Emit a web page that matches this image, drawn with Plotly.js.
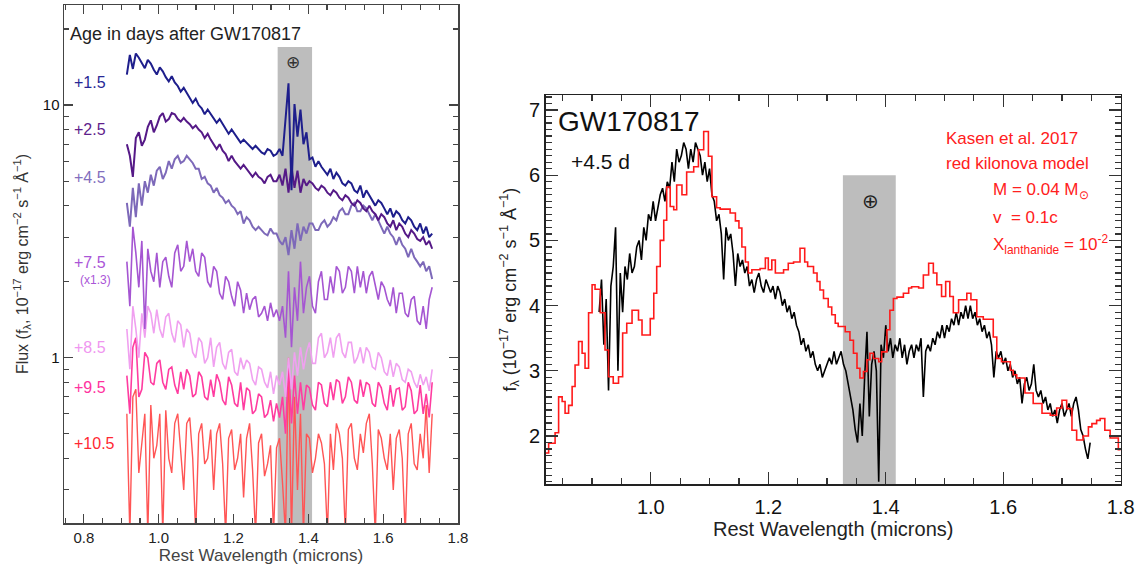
<!DOCTYPE html>
<html><head><meta charset="utf-8">
<script src="https://cdn.plot.ly/plotly-3.0.1.min.js"></script>
<style>html,body{margin:0;padding:0;background:#fff}#chart{width:1143px;height:571px}</style>
</head><body><div id="chart"></div>
<script>
// ---------- LEFT PANEL: spectral sequence (wavelength grid in microns) ----------
const leftStart = 0.915, leftStep = 0.008, leftCount = 103;
const leftWave = Array.from({length:leftCount}, (_, i) => +(leftStart + i*leftStep).toFixed(3));

const flux_1p5 = [13.2,15.8,13.9,16.0,15.4,14.6,14.0,15.1,14.6,13.8,
 13.2,14.1,13.6,12.9,12.4,13.0,12.3,11.9,11.3,11.7,
 11.2,10.7,10.2,10.6,10.0,9.7,9.2,9.6,9.2,8.9,
 8.5,8.8,8.4,8.1,7.7,8.0,7.7,7.4,7.1,7.3,
 7.1,6.9,6.7,6.9,6.7,6.5,6.4,6.7,6.6,6.3,
 6.4,6.7,6.3,8.5,12.2,4.6,10.1,7.5,9.6,7.0,
 7.8,6.1,6.2,5.7,6.0,5.7,5.5,5.3,5.6,5.1,
 5.4,5.2,4.9,4.8,5.0,4.9,4.6,4.5,4.8,4.3,
 4.6,4.4,4.2,4.0,4.2,4.1,3.9,3.7,3.9,3.6,
 3.8,3.7,3.5,3.4,3.6,3.5,3.3,3.2,3.4,3.1,
 3.3,3.0,3.1];
const flux_2p5 = [7.0,6.3,5.2,7.4,7.8,6.9,7.3,8.2,8.7,7.8,
 8.3,9.0,9.3,8.6,8.8,9.3,9.2,8.8,8.6,8.9,
 8.6,8.4,8.1,8.3,8.0,7.8,7.4,7.7,7.3,7.0,
 6.7,7.0,6.6,6.4,6.0,6.3,6.0,5.8,5.6,5.8,
 5.6,5.4,5.2,5.4,5.2,5.1,4.9,5.2,5.3,5.0,
 5.0,5.3,4.8,5.6,4.5,5.7,4.7,5.5,4.5,5.1,
 4.8,5.0,4.9,4.7,4.6,4.8,4.7,4.5,4.4,4.6,
 4.5,4.3,4.2,4.4,4.3,4.1,4.0,4.2,4.1,3.9,
 3.8,4.0,3.8,3.7,3.5,3.7,3.6,3.4,3.3,3.5,
 3.2,3.4,3.3,3.1,3.0,3.2,3.1,2.95,2.9,3.0,
 2.8,2.9,2.7];
const flux_4p5 = [4.1,3.3,4.7,3.6,4.9,4.0,5.0,4.5,5.3,4.8,
 5.5,5.7,5.1,5.4,6.0,5.6,6.1,6.3,5.9,6.0,
 6.3,6.1,5.9,5.6,5.6,5.1,5.2,4.9,4.8,4.5,
 4.7,4.4,4.3,4.1,4.2,4.0,3.9,3.7,3.8,3.4,
 3.6,3.5,3.3,3.2,3.3,3.2,3.1,3.05,3.25,3.1,
 3.1,2.9,2.8,3.0,2.55,3.2,2.7,3.4,2.9,3.3,
 3.1,3.4,3.4,3.2,3.2,3.4,3.5,3.3,3.4,3.6,
 3.5,3.8,3.9,3.7,3.7,4.0,4.1,3.8,3.8,4.0,
 3.9,3.7,3.5,3.7,3.5,3.3,3.1,3.3,3.1,3.0,
 2.8,3.0,2.8,2.7,2.5,2.7,2.5,2.4,2.3,2.4,
 2.2,2.3,2.05];
const flux_7p5 = [2.4,1.6,3.3,2.6,1.9,2.9,1.3,2.7,2.2,2.0,
 2.6,1.9,2.4,2.5,2.1,1.9,2.6,2.8,2.2,2.3,
 2.9,2.4,2.7,2.2,2.1,2.6,2.5,2.0,1.9,2.3,
 2.2,1.8,1.7,2.1,2.0,1.75,1.6,2.0,1.85,1.5,
 1.8,1.55,1.7,1.75,1.45,1.5,1.6,1.4,1.65,1.45,
 1.55,1.4,1.6,1.2,2.2,1.1,1.9,1.4,2.4,1.5,
 1.9,2.1,1.6,1.5,2.0,2.2,1.7,1.7,2.1,1.8,
 2.3,2.2,1.8,1.9,2.3,2.2,1.8,2.3,1.9,2.2,
 1.8,2.1,2.2,1.9,1.7,2.0,1.9,1.7,1.6,1.9,
 1.5,1.8,1.8,1.5,1.45,1.7,1.75,1.4,1.35,1.6,
 1.3,1.7,1.9];
const flux_8p5 = [1.3,0.9,1.6,1.3,1.0,1.5,1.2,1.6,1.5,1.25,
 1.55,1.3,1.2,1.45,1.5,1.25,1.15,1.4,1.35,1.1,
 1.3,1.25,1.05,1.0,1.2,1.15,0.95,1.0,1.2,0.92,
 1.1,1.15,0.95,0.9,1.05,1.08,0.88,0.85,1.0,0.9,
 0.98,0.95,0.82,0.78,0.92,0.9,0.8,0.76,0.88,0.72,
 0.85,0.78,0.88,0.7,1.0,0.75,1.05,0.85,1.1,0.9,
 1.05,1.15,0.95,0.95,1.2,1.25,1.0,1.05,1.2,1.0,
 1.2,1.25,1.05,1.0,1.15,1.15,0.95,1.0,1.1,0.95,
 1.1,1.05,0.92,0.9,1.05,1.0,0.88,0.85,0.98,0.84,
 0.95,0.92,0.82,0.8,0.9,0.88,0.8,0.76,0.86,0.78,
 0.84,0.74,0.9];
const flux_9p5 = [0.85,0.6,1.1,1.2,0.7,0.75,1.05,1.0,0.8,0.78,
 0.95,0.98,0.8,0.75,0.9,0.92,0.78,0.72,0.88,0.75,
 0.9,0.85,0.7,0.72,0.88,0.84,0.7,0.68,0.82,0.7,
 0.86,0.8,0.68,0.65,0.84,0.78,0.66,0.64,0.8,0.62,
 0.76,0.74,0.6,0.62,0.72,0.7,0.58,0.6,0.68,0.56,
 0.66,0.58,0.7,0.5,0.95,0.55,0.85,0.6,0.8,0.62,
 0.78,0.76,0.65,0.62,0.8,0.78,0.66,0.64,0.8,0.68,
 0.82,0.8,0.66,0.7,0.84,0.8,0.68,0.66,0.82,0.7,
 0.8,0.78,0.66,0.64,0.8,0.76,0.66,0.62,0.78,0.64,
 0.75,0.76,0.62,0.64,0.8,0.74,0.6,0.62,0.78,0.6,
 0.72,0.58,0.8];
const flux_10p5 = [0.6,0.2,0.7,0.75,0.35,0.45,0.6,0.2,0.65,0.4,
 0.45,0.6,0.2,0.62,0.4,0.35,0.55,0.6,0.42,0.3,
 0.55,0.58,0.4,0.2,0.5,0.55,0.38,0.4,0.52,0.3,
 0.5,0.55,0.38,0.2,0.48,0.52,0.36,0.4,0.5,0.28,
 0.48,0.55,0.36,0.2,0.46,0.5,0.34,0.38,0.45,0.2,
 0.44,0.48,0.32,0.2,1.0,0.2,0.7,0.3,0.6,0.2,
 0.5,0.48,0.35,0.4,0.5,0.46,0.38,0.2,0.5,0.36,
 0.55,0.5,0.4,0.2,0.52,0.55,0.4,0.36,0.5,0.42,
 0.55,0.6,0.38,0.2,0.52,0.48,0.4,0.36,0.5,0.3,
 0.48,0.52,0.4,0.2,0.5,0.55,0.38,0.36,0.5,0.4,
 0.65,0.35,0.6];

const leftLabels = ['+1.5','+2.5','+4.5','+7.5','+8.5','+9.5','+10.5'];

// ---------- RIGHT PANEL: +4.5 d spectrum and Kasen et al. 2017 model ----------
const rightStart = 0.912, rightStep = 0.004, rightCount = 210;
const rightWave = Array.from({length:rightCount}, (_, i) => +(rightStart + i*rightStep).toFixed(3));
const flux_obs = [3.9,4.4,3.4,4.1,2.7,4.3,4.6,5.2,3.0,4.5,
 3.9,4.6,4.4,4.8,4.5,4.6,4.9,5.0,4.7,5.2,
 5.0,5.4,5.3,5.6,5.3,5.5,5.7,5.8,5.6,5.9,
 5.8,6.2,5.9,6.4,6.2,6.3,6.5,6.4,6.1,6.4,
 6.2,6.5,6.4,6.3,6.0,6.2,5.9,6.1,5.7,5.6,
 5.3,5.4,5.1,4.4,5.2,5.0,5.1,4.8,4.3,4.8,
 4.6,4.7,4.5,4.6,4.3,4.4,4.2,4.4,4.5,4.3,
 4.2,4.4,4.3,4.2,4.3,4.1,4.3,4.2,4.0,4.1,
 3.9,4.0,3.8,3.9,3.7,3.6,3.4,3.5,3.3,3.4,
 3.2,3.3,3.1,3.0,3.1,2.9,3.0,3.1,3.2,3.1,
 3.3,3.1,3.2,3.3,3.1,3.0,2.8,2.6,2.4,2.1,
 1.9,2.5,2.0,2.9,3.6,2.3,3.1,3.3,3.0,1.3,
 3.4,3.2,3.7,3.3,3.5,3.2,3.4,3.3,3.5,3.2,
 3.4,3.1,3.3,3.4,3.2,3.4,3.3,3.5,2.6,3.3,
 3.4,3.3,3.5,3.4,3.6,3.5,3.7,3.5,3.7,3.6,
 3.8,3.7,3.9,3.7,3.9,3.8,4.0,3.8,4.0,3.8,
 3.9,3.7,3.8,3.6,3.7,3.5,3.6,3.4,2.9,3.3,
 3.2,3.3,3.1,3.2,3.0,3.1,2.9,3.0,2.8,2.9,
 2.5,2.8,2.9,2.7,2.8,3.1,2.7,2.6,2.7,2.5,
 2.6,2.4,2.5,2.3,2.4,2.2,2.4,2.5,2.3,2.4,
 2.5,2.3,2.5,2.6,2.4,2.1,2.0,1.8,1.65,1.9];

const modelWave = [0.820,0.826,0.837,0.843,0.849,0.854,0.860,0.866,0.871,0.877,0.883,0.888,0.894,0.900,0.905,0.914,0.922,0.928,0.936,0.945,
 0.952,0.959,0.968,0.979,0.985,0.999,1.005,1.010,1.016,1.022,1.027,1.033,1.039,1.044,1.053,1.061,1.073,1.081,1.090,1.098,
 1.104,1.112,1.118,1.135,1.144,1.150,1.155,1.161,1.166,1.172,1.186,1.195,1.200,1.206,1.212,1.226,1.234,1.243,1.254,1.262,
 1.267,1.277,1.283,1.288,1.294,1.302,1.308,1.314,1.319,1.331,1.339,1.345,1.351,1.356,1.362,1.368,1.373,1.379,1.388,1.393,
 1.402,1.407,1.413,1.419,1.430,1.439,1.444,1.456,1.464,1.473,1.481,1.487,1.495,1.502,1.509,1.515,1.524,1.538,1.545,1.555,
 1.566,1.583,1.589,1.597,1.612,1.617,1.623,1.637,1.651,1.666,1.680,1.691,1.700,1.708,1.717,1.725,1.736,1.745,1.751,1.759,
 1.765,1.773,1.782,1.796,1.800];
const modelFlux = [1.74,1.89,2.05,2.60,2.53,2.35,2.47,2.76,3.09,3.45,3.27,3.04,3.89,4.32,4.25,3.89,3.32,2.91,2.81,2.91,
 3.58,3.73,3.93,3.78,3.55,3.80,4.19,4.60,5.00,5.31,5.82,5.52,5.47,5.85,5.70,6.05,6.13,6.39,6.67,6.29,
 5.67,5.50,5.48,5.42,5.30,5.19,4.90,4.67,4.50,4.55,4.57,4.73,4.55,4.70,4.50,4.55,4.65,4.67,4.88,4.67,
 4.60,4.50,4.37,4.24,4.11,3.98,3.86,3.73,3.68,3.60,3.47,3.27,3.04,2.89,2.99,3.17,3.27,3.19,3.14,3.29,
 3.63,3.93,4.11,4.13,4.19,4.27,4.29,4.27,4.47,4.65,4.50,4.32,4.14,4.37,4.14,3.89,4.09,4.19,4.09,3.83,
 3.79,3.52,3.19,3.14,3.01,2.94,2.89,2.66,2.50,2.35,2.32,2.43,2.55,2.42,2.09,1.94,2.00,2.14,2.19,2.24,
 2.27,2.09,1.97,1.79,1.79];

// ---------- drawing ----------
const W = 1143, H = 571;
const FONT = 'Liberation Sans, Arial, Helvetica, sans-serif';
const fx = p => p / W, fy = p => 1 - p / H;

const leftSeries = [
  {y: flux_10p5, color: 'rgb(255,85,85)',  width: 1.4},
  {y: flux_9p5,  color: 'rgb(255,60,160)', width: 1.6},
  {y: flux_8p5,  color: 'rgb(240,160,240)', width: 1.6},
  {y: flux_7p5,  color: 'rgb(165,85,210)', width: 1.6},
  {y: flux_4p5,  color: 'rgb(125,105,185)', width: 2.0},
  {y: flux_2p5,  color: 'rgb(85,25,135)',  width: 2.0},
  {y: flux_1p5,  color: 'rgb(30,30,140)',  width: 2.0}
];
const traces = leftSeries.map(s => ({
  x: leftWave, y: s.y, type: 'scatter', mode: 'lines', xaxis: 'x', yaxis: 'y',
  line: {shape: 'linear', width: s.width, color: s.color}, hoverinfo: 'skip'
}));
traces.push({x: rightWave, y: flux_obs, type: 'scatter', mode: 'lines', xaxis: 'x2', yaxis: 'y2',
  line: {shape: 'linear', width: 1.6, color: '#000'}, hoverinfo: 'skip'});
traces.push({x: modelWave, y: modelFlux, type: 'scatter', mode: 'lines', xaxis: 'x2', yaxis: 'y2',
  line: {shape: 'hv', width: 1.6, color: '#ff1a1a'}, hoverinfo: 'skip'});

const axBase = {showline: true, mirror: 'allticks', ticks: 'inside', showgrid: false, zeroline: false};

const labelColors = ['rgb(40,40,150)','rgb(95,30,140)','rgb(130,110,190)','rgb(170,85,215)','rgb(240,150,240)','rgb(255,50,160)','rgb(255,40,50)'];
const labelY = [83,130,177,262,347,387,443];
const annotations = leftLabels.map((t, i) => ({
  text: t, xref: 'paper', yref: 'paper', x: fx(72), y: fy(labelY[i]), xanchor: 'left', yanchor: 'middle',
  showarrow: false, font: {family: FONT, size: 16, color: labelColors[i]}
}));
annotations.push(
  {text: '(x1.3)', xref: 'paper', yref: 'paper', x: fx(78), y: fy(280), xanchor: 'left', yanchor: 'middle', showarrow: false, font: {family: FONT, size: 12, color: 'rgb(170,85,215)'}},
  {text: 'Age in days after GW170817', xref: 'paper', yref: 'paper', x: fx(68), y: fy(34), xanchor: 'left', yanchor: 'middle', showarrow: false, font: {family: FONT, size: 18, color: '#222'}},
  {text: '⊕', xref: 'paper', yref: 'paper', x: fx(293), y: fy(62), xanchor: 'center', yanchor: 'middle', showarrow: false, font: {family: 'DejaVu Sans', size: 17, color: '#333'}},
  {text: '⊕', xref: 'paper', yref: 'paper', x: fx(870), y: fy(201), xanchor: 'center', yanchor: 'middle', showarrow: false, font: {family: 'DejaVu Sans', size: 20, color: '#222'}},
  {text: 'GW170817', xref: 'paper', yref: 'paper', x: fx(556), y: fy(121), xanchor: 'left', yanchor: 'middle', showarrow: false, font: {family: FONT, size: 28, color: '#111'}},
  {text: '+4.5 d', xref: 'paper', yref: 'paper', x: fx(569), y: fy(162), xanchor: 'left', yanchor: 'middle', showarrow: false, font: {family: FONT, size: 21, color: '#111'}},
  {text: 'Kasen et al. 2017', xref: 'paper', yref: 'paper', x: fx(944), y: fy(138), xanchor: 'left', yanchor: 'middle', showarrow: false, font: {family: FONT, size: 17, color: '#ff2020'}},
  {text: 'red kilonova model', xref: 'paper', yref: 'paper', x: fx(944), y: fy(164), xanchor: 'left', yanchor: 'middle', showarrow: false, font: {family: FONT, size: 17, color: '#ff2020'}},
  {text: 'M = 0.04 M<sub>⊙</sub>', xref: 'paper', yref: 'paper', x: fx(991), y: fy(191), xanchor: 'left', yanchor: 'middle', showarrow: false, font: {family: FONT, size: 17, color: '#ff2020'}},
  {text: 'v  = 0.1c', xref: 'paper', yref: 'paper', x: fx(991), y: fy(217), xanchor: 'left', yanchor: 'middle', showarrow: false, font: {family: FONT, size: 17, color: '#ff2020'}},
  {text: 'X<sub>lanthanide</sub> = 10<sup>-2</sup>', xref: 'paper', yref: 'paper', x: fx(991), y: fy(244), xanchor: 'left', yanchor: 'middle', showarrow: false, font: {family: FONT, size: 17, color: '#ff2020'}}
);

const layout = {
  width: W, height: H, margin: {l: 0, r: 0, t: 0, b: 0}, showlegend: false,
  paper_bgcolor: '#fff', plot_bgcolor: '#fff', font: {family: FONT},
  xaxis: Object.assign({}, axBase, {
    domain: [fx(64), fx(458)], range: [0.747, 1.8], anchor: 'y',
    linecolor: '#444', linewidth: 1.5, tickcolor: '#444', tickwidth: 1.2, ticklen: 9,
    tick0: 0.8, dtick: 0.2, tickformat: '.1f',
    minor: {tick0: 0.8, dtick: 0.05, ticklen: 5, ticks: 'inside', tickcolor: '#444'},
    tickfont: {family: FONT, size: 15, color: '#222'},
    title: {text: 'Rest Wavelength (microns)', font: {family: FONT, size: 17, color: '#444'}, standoff: 4}
  }),
  yaxis: Object.assign({}, axBase, {
    domain: [fy(523), fy(5)], type: 'log', range: [-0.654, 1.396], anchor: 'x',
    linecolor: '#444', linewidth: 1.5, tickcolor: '#444', tickwidth: 1.2, ticklen: 9,
    tickmode: 'array', tickvals: [1, 10], ticktext: ['1', '10'],
    minor: {tickmode: 'array', tickvals: [0.3,0.4,0.5,0.6,0.7,0.8,0.9,2,3,4,5,6,7,8,9,20], ticklen: 5, ticks: 'inside', tickcolor: '#444'},
    tickfont: {family: FONT, size: 15, color: '#111'},
    title: {text: 'Flux (f<sub>λ</sub>, 10<sup>−17</sup> erg cm<sup>−2</sup> s<sup>−1</sup> Å<sup>−1</sup>)', font: {family: FONT, size: 16, color: '#333'}, standoff: 10}
  }),
  xaxis2: Object.assign({}, axBase, {
    domain: [fx(545.7), fx(1120.7)], range: [0.821, 1.8], anchor: 'y2',
    linecolor: '#222', linewidth: 1.5, tickcolor: '#333', tickwidth: 1.2, ticklen: 12,
    tick0: 0.8, dtick: 0.2, tickformat: '.1f', ticklabelstandoff: 4,
    minor: {tick0: 0.8, dtick: 0.05, ticklen: 6, ticks: 'inside', tickcolor: '#333'},
    tickfont: {family: FONT, size: 20, color: '#111'},
    title: {text: 'Rest Wavelength (microns)', font: {family: FONT, size: 20, color: '#222'}, standoff: 1}
  }),
  yaxis2: Object.assign({}, axBase, {
    domain: [fy(484.3), fy(95)], range: [1.26, 7.23], anchor: 'x2',
    linecolor: '#222', linewidth: 1.5, tickcolor: '#333', tickwidth: 1.2, ticklen: 12,
    tick0: 0, dtick: 1,
    minor: {tick0: 0, dtick: 0.1, ticklen: 6, ticks: 'inside', tickcolor: '#333'},
    tickfont: {family: FONT, size: 20, color: '#111'},
    title: {text: 'f<sub>λ</sub> (10<sup>−17</sup> erg cm<sup>−2</sup> s<sup>−1</sup> Å<sup>−1</sup>)', font: {family: FONT, size: 18, color: '#222'}, standoff: 8}
  }),
  shapes: [
    {type: 'rect', xref: 'x', yref: 'y domain', x0: 1.318, x1: 1.41, y0: 0, y1: 0.919, fillcolor: '#bdbdbd', line: {width: 0}, layer: 'below'},
    {type: 'rect', xref: 'x2', yref: 'y2', x0: 1.327, x1: 1.417, y0: 1.26, y1: 6.0, fillcolor: '#bdbdbd', line: {width: 0}, layer: 'below'}
  ],
  annotations: annotations
};

Plotly.newPlot('chart', traces, layout, {displayModeBar: false, staticPlot: true});
</script></body></html>
